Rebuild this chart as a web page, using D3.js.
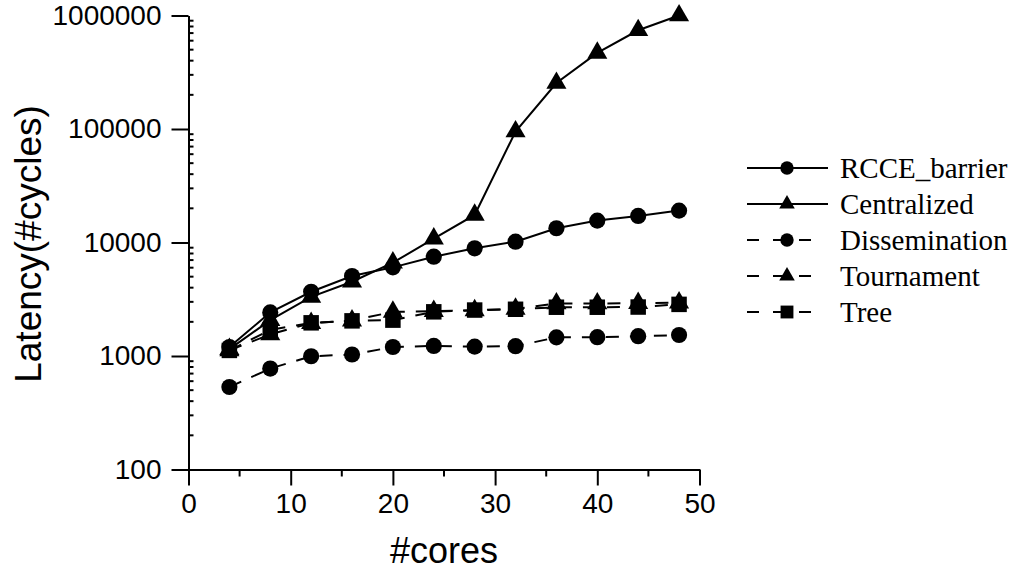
<!DOCTYPE html>
<html>
<head>
<meta charset="utf-8">
<script src="https://cdn.jsdelivr.net/npm/d3@7"></script>
<style>
  html, body { margin: 0; padding: 0; background: #fff; }
  svg { display: block; }
</style>
</head>
<body>
<svg id="chart" width="1015" height="570"></svg>
<script>
const cores = [4, 8, 12, 16, 20, 24, 28, 32, 36, 40, 44, 48];
const rcceBarrier   = [1200, 2420, 3680, 5060, 6040, 7500, 8890, 10170, 13340, 15590, 17140, 19100];
const centralized   = [1150, 2070, 3320, 4510, 6640, 10800, 17500, 95000, 254000, 468000, 741000, 1000000];
const dissemination = [533, 775, 995, 1030, 1200, 1227, 1210, 1220, 1460, 1465, 1495, 1530];
const tournament    = [1120, 1550, 1950, 2050, 2450, 2480, 2520, 2600, 2900, 2900, 2920, 2950];
const tree          = [1120, 1700, 1960, 2040, 2070, 2450, 2540, 2580, 2690, 2690, 2700, 2850];
const seriesNames   = ["RCCE_barrier", "Centralized", "Dissemination", "Tournament", "Tree"];
const xTicks = [0, 10, 20, 30, 40, 50];
const xMinorTicks = [5, 15, 25, 35, 45];
const yTicks = [100, 1000, 10000, 100000, 1000000];
const xTitle = "#cores";
const yTitle = "Latency(#cycles)";

const seriesValues = [rcceBarrier, centralized, dissemination, tournament, tree];
const seriesSymbol = [d3.symbolCircle, d3.symbolTriangle, d3.symbolCircle, d3.symbolTriangle, d3.symbolSquare];
const seriesDash = [null, null, "13,11", "13,11", "13,11"];

const svg = d3.select("#chart");
const x = d3.scaleLinear().domain([0, 50]).range([188.5, 699.5]);
const y = d3.scaleLog().domain([100, 1000000]).range([469.5, 15.5]);

const sans = "'Liberation Sans', Arial, Helvetica, sans-serif";
const serif = "'Liberation Serif', 'Times New Roman', serif";

// Y axis (major ticks outward)
const yAxis = svg.append("g").attr("transform", `translate(${x(0)},0)`)
  .call(d3.axisLeft(y).tickValues(yTicks).tickFormat(d3.format("d")).tickSizeInner(17).tickSizeOuter(0).tickPadding(10));
yAxis.select(".domain").attr("stroke", "#000").attr("stroke-width", 2);
yAxis.selectAll(".tick line").attr("stroke-width", 2);
yAxis.selectAll(".tick text").attr("font-family", sans).attr("font-size", 28).attr("fill", "#000");

// Y minor ticks (inward)
const yMinor = [];
for (let d = 100; d < 1000000; d *= 10) for (let k = 2; k <= 9; k++) yMinor.push(d * k);
svg.append("g").selectAll("line").data(yMinor).join("line")
  .attr("x1", x(0)).attr("x2", x(0) + 5)
  .attr("y1", d => y(d)).attr("y2", d => y(d))
  .attr("stroke", "#000").attr("stroke-width", 2);

// X axis
const xAxis = svg.append("g").attr("transform", `translate(0,${y(100)})`)
  .call(d3.axisBottom(x).tickValues(xTicks).tickSizeInner(16).tickSizeOuter(0).tickPadding(8));
xAxis.select(".domain").attr("stroke", "#000").attr("stroke-width", 2);
xAxis.selectAll(".tick line").attr("stroke-width", 2);
xAxis.selectAll(".tick text").attr("font-family", sans).attr("font-size", 28).attr("fill", "#000");
svg.append("g").selectAll("line").data(xMinorTicks).join("line")
  .attr("x1", d => x(d)).attr("x2", d => x(d))
  .attr("y1", y(100)).attr("y2", y(100) + 7)
  .attr("stroke", "#000").attr("stroke-width", 2);

// Axis titles
svg.append("text").attr("x", (x(0) + x(50)) / 2).attr("y", 563)
  .attr("text-anchor", "middle").attr("font-family", sans).attr("font-size", 36).text(xTitle);
svg.append("text").attr("transform", `translate(41,${244})rotate(-90)`)
  .attr("text-anchor", "middle").attr("font-family", sans).attr("font-size", 37).text(yTitle);

// Series
const line = d3.line().x((d, i) => x(cores[i])).y(d => y(d));
const symSize = [205, 175, 205, 175, 240];
seriesValues.forEach((vals, s) => {
  const g = svg.append("g");
  g.append("path").datum(vals).attr("d", line)
    .attr("fill", "none").attr("stroke", "#000").attr("stroke-width", 2)
    .attr("stroke-dasharray", seriesDash[s]);
  g.selectAll("path.m").data(vals).join("path").attr("class", "m")
    .attr("d", d3.symbol().type(seriesSymbol[s]).size(symSize[s]))
    .attr("transform", (d, i) => `translate(${x(cores[i])},${y(d)})`)
    .attr("fill", "#000");
});

// Legend
const legSize = [140, 105, 140, 105, 165];
const leg = svg.append("g");
seriesNames.forEach((name, s) => {
  const cy = 168 + s * 36;
  const dashed = !!seriesDash[s];
  leg.append("line").attr("x1", 747).attr("x2", dashed ? 812 : 828)
    .attr("y1", cy).attr("y2", cy).attr("stroke", "#000").attr("stroke-width", 2)
    .attr("stroke-dasharray", dashed ? "12,14" : null);
  leg.append("path").attr("d", d3.symbol().type(seriesSymbol[s]).size(legSize[s]))
    .attr("transform", `translate(787,${cy})`).attr("fill", "#000");
  leg.append("text").attr("x", 840).attr("y", cy + 10)
    .attr("font-family", serif).attr("font-size", 29).text(name);
});
</script>
</body>
</html>
